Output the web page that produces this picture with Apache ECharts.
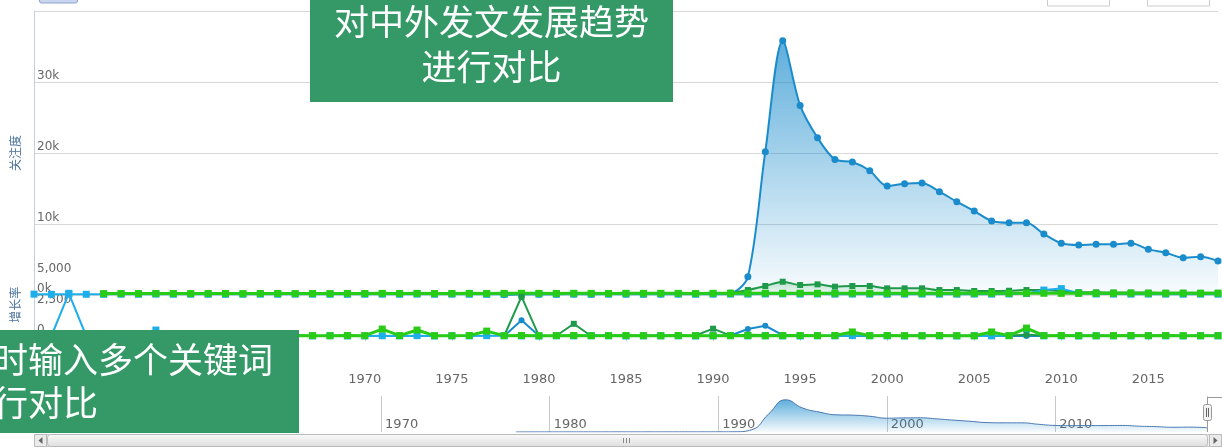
<!DOCTYPE html>
<html>
<head>
<meta charset="utf-8">
<title>关注度 / 增长率</title>
<script src="https://cdn.jsdelivr.net/npm/echarts@6/dist/echarts.min.js"></script>
<style>
  html, body { margin: 0; padding: 0; background: #fff; }
  #chart { width: 1222px; height: 448px; }
</style>
</head>
<body>
<div id="chart"></div>
<script>
var years = [
  1951, 1952, 1953, 1954, 1955, 1956, 1957, 1958, 1959, 1960,
  1961, 1962, 1963, 1964, 1965, 1966, 1967, 1968, 1969, 1970,
  1971, 1972, 1973, 1974, 1975, 1976, 1977, 1978, 1979, 1980,
  1981, 1982, 1983, 1984, 1985, 1986, 1987, 1988, 1989, 1990,
  1991, 1992, 1993, 1994, 1995, 1996, 1997, 1998, 1999, 2000,
  2001, 2002, 2003, 2004, 2005, 2006, 2007, 2008, 2009, 2010,
  2011, 2012, 2013, 2014, 2015, 2016, 2017, 2018, 2019
]

// 关注度 (top pane)
var attentionBlue = [
  null, null, null, null, null, null, null, null, null, null,
  null, null, null, null, null, null, null, null, null, null,
  null, null, null, null, null, null, null, 40, 90, 110,
  120, 130, 120, 140, 130, 150, 140, 160, 170, 180,
  250, 2580, 20180, 35800, 26700, 22150, 19100, 18730, 17500, 15350,
  15670, 15770, 14550, 13140, 11830, 10420, 10180, 10180, 8590, 7280,
  7040, 7140, 7140, 7280, 6430, 5960, 5250, 5390, 4790
]
var attentionDarkGreen = [
  null, null, null, null, null, null, null, null, null, null,
  null, null, null, null, null, null, null, null, null, null,
  null, null, null, null, null, null, null, 60, 150, 160,
  170, 200, 180, 190, 200, 210, 200, 220, 230, 260,
  330, 700, 1270, 1870, 1410, 1500, 1170, 1270, 1270, 940,
  940, 940, 700, 700, 560, 560, 600, 700, 700, 560,
  400, 380, 360, 350, 340, 330, 330, 320, 320
]
var attentionLightBlue = [
  120, 100, 110, 100, 90, 110, 100, 120, 100, 110,
  100, 90, 100, 110, 100, 120, 110, 100, 90, 100,
  110, 100, 120, 100, 110, 100, 90, 100, 110, 120,
  100, 110, 100, 120, 110, 100, 120, 110, 100, 120,
  130, 120, 140, 150, 130, 140, 120, 130, 120, 110,
  120, 130, 120, 110, 130, 120, 140, 200, 700, 900,
  250, 140, 130, 120, 130, 120, 110, 120, 110
]
var attentionLightGreen = [
  null, null, null, null, 200, 210, 200, 220, 210, 200,
  210, 220, 200, 210, 220, 200, 210, 200, 220, 210,
  230, 220, 230, 210, 220, 230, 220, 230, 240, 230,
  220, 240, 230, 220, 240, 230, 240, 230, 220, 240,
  230, 240, 250, 240, 250, 240, 230, 250, 240, 230,
  240, 250, 240, 230, 240, 250, 240, 250, 240, 230,
  240, 230, 240, 250, 240, 230, 240, 230, 240
]

// 增长率 (lower pane)
var growthBlue = [
  null, null, null, null, null, null, null, null, null, null,
  null, null, null, null, null, null, null, null, null, null,
  null, null, null, null, null, null, null, 0, 1300, 20,
  10, 0, 15, 30, 10, 40, 20, 30, 10, 20,
  40, 570, 840, 80, 20, 10, 0, 20, 10, 0,
  30, 20, 0, 10, 0, 10, 20, 10, 0, 10,
  20, 30, 20, 30, 10, 20, 10, 20, 10
]
var growthDarkGreen = [
  null, null, null, null, null, null, null, null, null, null,
  null, null, null, null, null, null, null, null, null, null,
  null, null, null, null, null, null, null, 0, 3220, 10,
  20, 1000, 0, 30, 20, 10, 30, 20, 40, 600,
  30, 110, 80, 60, 20, 30, 10, 40, 20, 10,
  30, 20, 10, 30, 20, 40, 30, 120, 30, 20,
  30, 20, 10, 20, 30, 20, 10, 20, 30
]
var growthLightBlue = [
  null, 0, 3500, 0, 20, 10, 0, 490, 0, 20,
  10, 0, 20, 10, 0, 20, 10, 30, 0, 10,
  20, 10, 30, 0, 20, 10, 30, 20, 10, 0,
  20, 10, 30, 20, 0, 10, 20, 10, 0, 20,
  30, 10, 20, 10, 0, 20, 10, 30, 20, 10,
  0, 20, 10, 0, 20, 10, 30, 600, 20, 10,
  0, 20, 10, 0, 20, 10, 0, 20, 10
]
var growthLightGreen = [
  null, null, null, null, null, 30, 40, 20, 30, 40,
  30, 20, 40, 30, 20, 40, 30, 20, 40, 30,
  570, 30, 490, 30, 20, 40, 400, 30, 40, 20,
  30, 40, 20, 30, 40, 30, 20, 40, 30, 20,
  30, 40, 20, 30, 40, 30, 40, 330, 30, 40,
  30, 20, 40, 30, 20, 330, 30, 650, 30, 40,
  30, 20, 30, 40, 30, 40, 30, 20, 30
]

var yearStrings = years.map(String)
var everyFive = function (index, value) { return Number(value) % 5 === 0 }
var navigatorData = years.map(function (y, i) { return [y, attentionBlue[i]] })

function fade(color, top, bottom) {
  return new echarts.graphic.LinearGradient(0, 0, 0, 1, [
    { offset: 0, color: color.replace('A', top) },
    { offset: 1, color: color.replace('A', bottom) }
  ])
}

function pointSeries(name, data, color, x, y, opts) {
  return Object.assign({
    name: name,
    type: 'line',
    xAxisIndex: x,
    yAxisIndex: y,
    data: data,
    symbol: 'rect',
    symbolSize: 7,
    showAllSymbol: true,
    itemStyle: { color: color },
    lineStyle: { color: color, width: 2 }
  }, opts || {})
}

var labelFont = 'DejaVu Sans'
var chart = echarts.init(document.getElementById('chart'))

chart.setOption({
  animation: false,
  grid: [
    { left: 34, right: 4, top: 11, height: 284 },
    { left: 34, right: 4, top: 275, height: 91.5 },
    { left: 44, right: 15, top: 396, height: 36 }
  ],
  xAxis: [
    { gridIndex: 0, type: 'category', data: yearStrings, boundaryGap: false, show: false },
    {
      gridIndex: 1, type: 'category', data: yearStrings, boundaryGap: false,
      axisLine: { lineStyle: { color: '#c0d0e0' } },
      axisTick: { interval: everyFive, length: 5, lineStyle: { color: '#c0d0e0' } },
      axisLabel: { interval: everyFive, color: '#666', fontSize: 13, fontFamily: labelFont, margin: 7 },
      splitLine: { show: false }
    },
    {
      gridIndex: 2, type: 'value', min: 1950, max: 2019, interval: 10,
      axisLine: { show: false },
      axisTick: { show: false },
      axisLabel: {
        inside: true, align: 'left', verticalAlign: 'bottom', margin: 1, padding: [0, 0, 0, 4],
        color: '#666', fontSize: 13, fontFamily: labelFont,
        formatter: function (v) { return v % 10 === 0 ? String(v) : '' }
      },
      splitLine: { show: true, lineStyle: { color: '#c8c8c8' } }
    }
  ],
  yAxis: [
    {
      gridIndex: 0, type: 'value', min: 0, max: 40000, interval: 10000,
      name: '关注度', nameLocation: 'middle', nameRotate: 90, nameGap: 13,
      nameTextStyle: { color: '#4d759e', fontSize: 12, fontFamily: 'Noto Sans CJK SC' },
      axisLine: { show: true, lineStyle: { color: '#c0d0e0' } },
      axisTick: { show: false },
      axisLabel: {
        inside: true, align: 'left', verticalAlign: 'bottom', margin: 3,
        color: '#666', fontSize: 12, fontFamily: labelFont,
        formatter: function (v) { return v >= 40000 ? '' : (v / 1000) + 'k' }
      },
      splitLine: { lineStyle: { color: '#d8d8d8' } }
    },
    {
      gridIndex: 1, type: 'value', min: -2500, max: 5000, interval: 2500,
      name: '增长率', nameLocation: 'middle', nameRotate: 90, nameGap: 13,
      nameTextStyle: { color: '#4d759e', fontSize: 12, fontFamily: 'Noto Sans CJK SC', padding: [0, 0, 0, 32] },
      axisLine: { show: true, lineStyle: { color: '#c0d0e0' } },
      axisTick: { show: false },
      axisLabel: {
        inside: true, align: 'left', verticalAlign: 'bottom', margin: 3,
        color: '#666', fontSize: 12, fontFamily: labelFont,
        formatter: function (v) { return v < 0 ? '' : v.toLocaleString('en-US') }
      },
      splitLine: { show: false }
    },
    { gridIndex: 2, type: 'value', min: 0, max: 40000, show: false }
  ],
  series: [
    pointSeries('中文关注度', attentionBlue, '#1a8ccc', 0, 0, {
      symbol: 'circle', smooth: 0.3,
      areaStyle: { color: fade('rgba(26,140,204,A)', 1, 0.04) }
    }),
    pointSeries('外文关注度', attentionDarkGreen, '#1f9a4a', 0, 0, {
      symbolSize: 6, smooth: 0.3,
      areaStyle: { color: fade('rgba(31,154,74,A)', 0.35, 0.05) }
    }),
    pointSeries('关键词2 关注度', attentionLightBlue, '#1eaeea', 0, 0),
    pointSeries('关键词2 外文关注度', attentionLightGreen, '#28cc14', 0, 0, { lineStyle: { color: '#28cc14', width: 3 } }),
    pointSeries('中文增长率', growthBlue, '#1a8ccc', 1, 1, { symbol: 'circle', symbolSize: 6 }),
    pointSeries('外文增长率', growthDarkGreen, '#1f9a4a', 1, 1, { symbolSize: 6 }),
    pointSeries('关键词2 增长率', growthLightBlue, '#1eaeea', 1, 1),
    pointSeries('关键词2 外文增长率', growthLightGreen, '#28cc14', 1, 1, { lineStyle: { color: '#28cc14', width: 3 } }),
    {
      type: 'line', xAxisIndex: 2, yAxisIndex: 2, data: navigatorData,
      showSymbol: false, smooth: true, silent: true,
      lineStyle: { color: '#4a78b0', width: 1 },
      areaStyle: { color: fade('rgba(26,140,204,A)', 1, 0.05) }
    }
  ],
  graphic: [
    // range selector leftovers, cut off by the top edge
    { type: 'rect', z: 50, shape: { x: 39.5, y: -12, width: 38, height: 15, r: 2 }, style: { fill: '#c9d6ef', stroke: '#8da2cc' } },
    { type: 'text', z: 50, style: { text: 'From', x: 1038, y: 1, align: 'right', verticalAlign: 'bottom', fill: '#666', font: '12px ' + labelFont } },
    { type: 'rect', z: 50, shape: { x: 1047.5, y: -14, width: 62, height: 20 }, style: { fill: '#fff', stroke: '#cccccc' } },
    { type: 'text', z: 51, style: { text: '1950', x: 1078, y: 3, align: 'center', verticalAlign: 'bottom', fill: '#3a6bc4', font: '12px ' + labelFont } },
    { type: 'text', z: 50, style: { text: 'To', x: 1130, y: 1, align: 'center', verticalAlign: 'bottom', fill: '#666', font: '12px ' + labelFont } },
    { type: 'rect', z: 50, shape: { x: 1147.5, y: -14, width: 62, height: 20 }, style: { fill: '#fff', stroke: '#cccccc' } },
    { type: 'text', z: 51, style: { text: '2019', x: 1178, y: 3, align: 'center', verticalAlign: 'bottom', fill: '#3a6bc4', font: '12px ' + labelFont } },

    // navigator handle and outline at the right end
    { type: 'polyline', z: 50, shape: { points: [[1207.5, 432], [1207.5, 397.5], [1222, 397.5]] }, style: { stroke: '#999', fill: null, lineWidth: 1 } },
    { type: 'rect', z: 51, shape: { x: 1203.5, y: 404.5, width: 8, height: 16, r: 2 }, style: { fill: '#f2f2f2', stroke: '#999' } },
    { type: 'line', z: 52, shape: { x1: 1206.5, y1: 408, x2: 1206.5, y2: 417 }, style: { stroke: '#666' } },
    { type: 'line', z: 52, shape: { x1: 1208.5, y1: 408, x2: 1208.5, y2: 417 }, style: { stroke: '#666' } },

    // scrollbar
    { type: 'rect', z: 50, shape: { x: 34.5, y: 434.5, width: 1187, height: 12 }, style: { fill: '#eeeeee', stroke: '#cccccc' } },
    { type: 'rect', z: 51, shape: { x: 47.5, y: 434.5, width: 1160, height: 12, r: 3 }, style: {
      fill: new echarts.graphic.LinearGradient(0, 0, 0, 1, [{ offset: 0, color: '#fafafa' }, { offset: 1, color: '#dedede' }]),
      stroke: '#bbbbbb' } },
    { type: 'line', z: 52, shape: { x1: 623.5, y1: 438, x2: 623.5, y2: 443 }, style: { stroke: '#888' } },
    { type: 'line', z: 52, shape: { x1: 626.5, y1: 438, x2: 626.5, y2: 443 }, style: { stroke: '#888' } },
    { type: 'line', z: 52, shape: { x1: 629.5, y1: 438, x2: 629.5, y2: 443 }, style: { stroke: '#888' } },
    { type: 'rect', z: 51, shape: { x: 34.5, y: 434.5, width: 12, height: 12 }, style: { fill: '#ebebeb', stroke: '#bbbbbb' } },
    { type: 'polygon', z: 52, shape: { points: [[42.5, 437], [42.5, 444], [38.5, 440.5]] }, style: { fill: '#666' } },
    { type: 'rect', z: 51, shape: { x: 1209.5, y: 434.5, width: 12, height: 12 }, style: { fill: '#ebebeb', stroke: '#bbbbbb' } },
    { type: 'polygon', z: 52, shape: { points: [[1213.5, 437], [1213.5, 444], [1217.5, 440.5]] }, style: { fill: '#666' } },

    // green caption boxes laid over the chart
    { type: 'rect', z: 100, shape: { x: 310, y: -5, width: 363, height: 107 }, style: { fill: '#349967' } },
    { type: 'text', z: 101, style: { text: '对中外发文发展趋势', x: 491.5, y: 22, align: 'center', verticalAlign: 'middle', fill: '#fff', font: '35px "Noto Sans CJK SC"' } },
    { type: 'text', z: 101, style: { text: '进行对比', x: 491.5, y: 67, align: 'center', verticalAlign: 'middle', fill: '#fff', font: '35px "Noto Sans CJK SC"' } },
    { type: 'rect', z: 100, shape: { x: -5, y: 330, width: 304, height: 103 }, style: { fill: '#349967' } },
    { type: 'text', z: 101, style: { text: '同时输入多个关键词', x: -42, y: 360, align: 'left', verticalAlign: 'middle', fill: '#fff', font: '35px "Noto Sans CJK SC"' } },
    { type: 'text', z: 101, style: { text: '进行对比', x: -42, y: 403, align: 'left', verticalAlign: 'middle', fill: '#fff', font: '35px "Noto Sans CJK SC"' } }
  ]
})
</script>
</body>
</html>
